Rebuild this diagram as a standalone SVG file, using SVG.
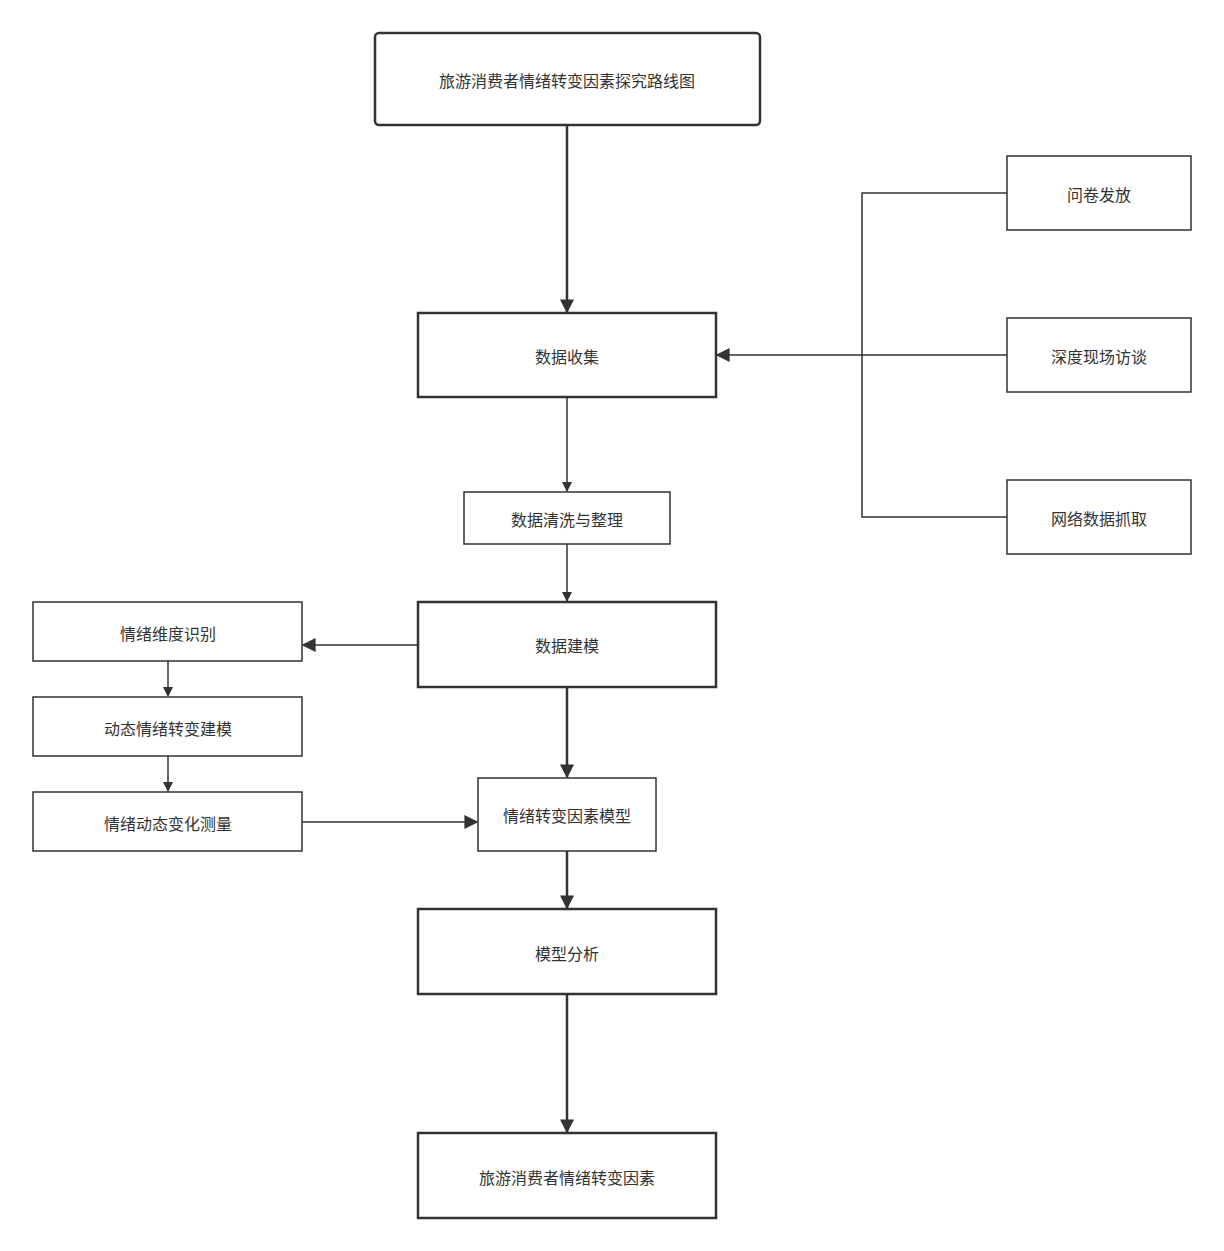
<svg xmlns="http://www.w3.org/2000/svg" width="1224" height="1251" viewBox="0 0 1224 1251">
<style>
rect{fill:#fff;stroke:#333}
.b{stroke-width:2.5}.t{stroke-width:1.5}
text{font-family:"Noto Sans CJK SC","Noto Sans",sans-serif;font-size:16px;fill:#333;text-anchor:middle;dominant-baseline:central}
.c path{fill:none;stroke:#333}
</style>
<defs><marker id="a" viewBox="0 0 10 10" refX="9" refY="5" markerWidth="10" markerHeight="10" markerUnits="userSpaceOnUse" orient="auto"><path d="M0,0L10,5L0,10z" fill="#333"/></marker>
<marker id="a2" viewBox="0 0 10 10" refX="9" refY="5" markerWidth="14" markerHeight="14" markerUnits="userSpaceOnUse" orient="auto"><path d="M0,0L10,5L0,10z" fill="#333"/></marker></defs>
<rect width="1224" height="1251" style="stroke:none"/>
<g class="c">
<path d="M567,125V312" stroke-width="2.5" marker-end="url(#a2)"/>
<path d="M1007,193H862V517H1007" stroke-width="1.5"/>
<path d="M1007,355H717" stroke-width="1.5" marker-end="url(#a2)"/>
<path d="M567,397V491" stroke-width="1.5" marker-end="url(#a)"/>
<path d="M567,544V601" stroke-width="1.5" marker-end="url(#a)"/>
<path d="M418,645H303" stroke-width="1.5" marker-end="url(#a2)"/>
<path d="M168,661V696" stroke-width="1.5" marker-end="url(#a)"/>
<path d="M168,756V791" stroke-width="1.5" marker-end="url(#a)"/>
<path d="M302,822H477" stroke-width="1.5" marker-end="url(#a2)"/>
<path d="M567,687V777" stroke-width="2.5" marker-end="url(#a2)"/>
<path d="M567,851V908" stroke-width="2.5" marker-end="url(#a2)"/>
<path d="M567,994V1132" stroke-width="2.5" marker-end="url(#a2)"/>
</g>
<g id="n1"><rect class="b" x="375" y="33" width="385" height="92" rx="4"/><text x="567" y="80">旅游消费者情绪转变因素探究路线图</text></g>
<g id="n2"><rect class="b" x="418" y="313" width="298" height="84"/><text x="567" y="356">数据收集</text></g>
<g id="n3"><rect class="t" x="464" y="492" width="206" height="52"/><text x="567" y="519">数据清洗与整理</text></g>
<g id="n4"><rect class="b" x="418" y="602" width="298" height="85"/><text x="567" y="645">数据建模</text></g>
<g id="n5"><rect class="t" x="33" y="602" width="269" height="59"/><text x="168" y="633">情绪维度识别</text></g>
<g id="n6"><rect class="t" x="33" y="697" width="269" height="59"/><text x="168" y="728">动态情绪转变建模</text></g>
<g id="n7"><rect class="t" x="33" y="792" width="269" height="59"/><text x="168" y="823">情绪动态变化测量</text></g>
<g id="n8"><rect class="t" x="478" y="778" width="178" height="73"/><text x="567" y="815">情绪转变因素模型</text></g>
<g id="n9"><rect class="b" x="418" y="909" width="298" height="85"/><text x="567" y="953">模型分析</text></g>
<g id="n10"><rect class="b" x="418" y="1133" width="298" height="85"/><text x="567" y="1177">旅游消费者情绪转变因素</text></g>
<g id="n11"><rect class="t" x="1007" y="156" width="184" height="74"/><text x="1099" y="194">问卷发放</text></g>
<g id="n12"><rect class="t" x="1007" y="318" width="184" height="74"/><text x="1099" y="356">深度现场访谈</text></g>
<g id="n13"><rect class="t" x="1007" y="480" width="184" height="74"/><text x="1099" y="518">网络数据抓取</text></g>
</svg>
